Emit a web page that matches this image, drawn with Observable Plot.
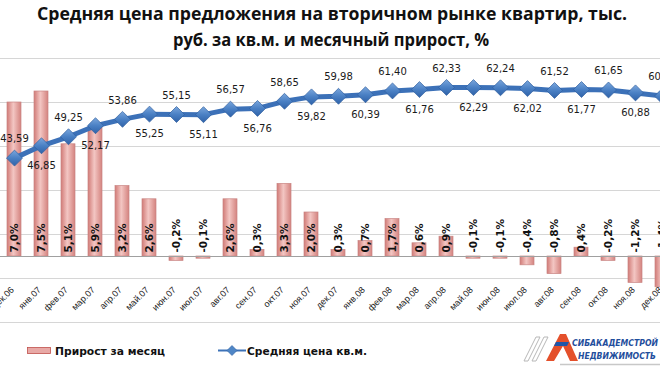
<!DOCTYPE html>
<html><head><meta charset="utf-8">
<script src="https://cdn.jsdelivr.net/npm/d3@7"></script>
<script src="https://cdn.jsdelivr.net/npm/@observablehq/plot@0.6"></script>
<style>
html,body{margin:0;padding:0;background:#fff;overflow:hidden;}
#wrap{position:relative;width:660px;height:371px;overflow:hidden;background:#fff;}
.layer{position:absolute;left:0;top:0;}
.title{position:absolute;font-family:"Open Sans",sans-serif;font-weight:700;font-size:18px;line-height:1;color:#111;white-space:nowrap;transform-origin:0 0;}
#legend,#logo{position:absolute;}
</style></head>
<body><div id="wrap">
<div class="title" id="t1">Средняя цена предложения на вторичном рынке квартир, тыс.</div>
<div class="title" id="t2">руб. за кв.м. и месячный прирост, %</div>
<div id="bars" class="layer"></div>
<div id="line" class="layer"></div>
<svg id="legend" width="400" height="20" style="left:0;top:341px">
  <rect x="27.5" y="6.5" width="23" height="6" fill="#e8a9a6" stroke="#c0504d" stroke-width="0.8"/>
  <text x="55" y="14" font-family="DejaVu Sans" font-weight="700" font-size="10.5" fill="#111" textLength="110" lengthAdjust="spacingAndGlyphs">Прирост за месяц</text>
  <line x1="218" x2="246" y1="9.5" y2="9.5" stroke="#3d72b8" stroke-width="2"/>
  <path d="M232,4.5 L237,9.5 L232,14.5 L227,9.5 Z" fill="#4f86c6" stroke="#2f5f9f" stroke-width="0.6"/>
  <text x="247" y="14" font-family="DejaVu Sans" font-weight="700" font-size="10.5" fill="#111" textLength="120" lengthAdjust="spacingAndGlyphs">Средняя цена кв.м.</text>
</svg>
<svg id="logo" width="140" height="42" style="left:520px;top:329px">
  <polygon points="4,32 16,8 20,8 8,32" fill="none" stroke="#b8b8b8" stroke-width="1"/>
  <polygon points="12,32 24,8 28,8 16,32" fill="none" stroke="#b8b8b8" stroke-width="1"/>
  <polygon points="26,32 40,5 46,5 58,32 50,32 43,17 34,32" fill="#e4502b"/>
  <polygon points="36,13 49,13 47,17 34,17" fill="#1f56a8"/>
  <text x="52" y="17" font-family="DejaVu Sans" font-style="italic" font-weight="700" font-size="8.5" fill="#1f4e9c" textLength="86" lengthAdjust="spacingAndGlyphs">СИБАКАДЕМСТРОЙ</text>
  <text x="58" y="30" font-family="DejaVu Sans" font-style="italic" font-weight="700" font-size="8.5" fill="#1f4e9c" textLength="78" lengthAdjust="spacingAndGlyphs">НЕДВИЖИМОСТЬ</text>
  <line x1="40" x2="140" y1="35.5" y2="35.5" stroke="#c8c8c8" stroke-width="1.5"/>
</svg>
</div>
<script>
const months = ["дек.06","янв.07","фев.07","мар.07","апр.07","май.07","июн.07","июл.07","авг.07","сен.07","окт.07","ноя.07","дек.07","янв.08","фев.08","мар.08","апр.08","май.08","июн.08","июл.08","авг.08","сен.08","окт.08","ноя.08","дек.08"];
const growth = [7.0,7.5,5.1,5.9,3.2,2.6,-0.2,-0.1,2.6,0.3,3.3,2.0,0.3,0.7,1.7,0.6,0.9,-0.1,-0.1,-0.4,-0.8,0.4,-0.2,-1.2,-1.4];
const prices = [43.59,46.85,49.25,52.17,53.86,55.25,55.15,55.11,56.57,56.76,58.65,59.82,59.98,60.39,61.40,61.76,62.33,62.29,62.24,62.02,61.52,61.77,61.65,60.88,60.03];
const gridTicks = [-3,-1,1,3,5,7,9];
const pctDomain = [-3, 9];
const priceDomain = [0, 70];

const data = months.map((m, i) => ({month: m, growth: growth[i], price: prices[i], i}));
const comma = (v, d) => v.toFixed(d).replace(".", ",");

const W = 660, H = 371;
const frame = {width: W, height: H, marginTop: 58, marginBottom: 49, marginLeft: 0, marginRight: 0};
const xOpts = {type: "band", domain: months, range: [-9.9, 684.7], padding: 0.5, axis: null};

// title fitting: same glyph height, horizontal scale to match the reference widths
function fit(id, left, target, top) {
  const el = document.getElementById(id);
  const w = el.getBoundingClientRect().width;
  el.style.left = left + "px";
  el.style.top = top + "px";
  el.style.transform = `scaleX(${target / w})`;
}
fit("t1", 37, 590, 4);
fit("t2", 173, 316, 30);

const barsPlot = Plot.plot({
  ...frame,
  style: "background: transparent; overflow: hidden;",
  x: xOpts,
  y: {domain: pctDomain, axis: null},
  marks: [
    Plot.ruleY(gridTicks, {stroke: "#d6d6d6", strokeWidth: 1.2}),
    Plot.barY(data, {x: "month", y: "growth", fill: "url(#barGrad)", stroke: "#c98583", strokeWidth: 0.7}),
    Plot.ruleY([0], {stroke: "#a0a0a0", strokeWidth: 1.2}),
    Plot.text(data, {x: "month", y: () => 0, text: d => comma(d.growth, 1) + "%", rotate: -90, textAnchor: "start", dy: -4,
      fontFamily: "DejaVu Sans", fontWeight: "bold", fontSize: 10.5, fill: "#111"}),
    Plot.text(months, {x: d => d, y: () => -1.45, text: d => d, rotate: -45, textAnchor: "end", dx: -2,
      fontFamily: "Liberation Sans", fontSize: 9, fill: "#222"})
  ]
});
d3.select(barsPlot).insert("defs", ":first-child").html(`
  <linearGradient id="barGrad" x1="0" x2="1" y1="0" y2="0">
    <stop offset="0" stop-color="#d17b77"/>
    <stop offset="0.45" stop-color="#f3c6c3"/>
    <stop offset="1" stop-color="#d4837f"/>
  </linearGradient>`);
document.getElementById("bars").appendChild(barsPlot);

const linePlot = Plot.plot({
  ...frame,
  style: "background: transparent; overflow: hidden;",
  x: xOpts,
  y: {domain: priceDomain, axis: null},
  marks: [
    Plot.lineY(data, {x: "month", y: "price", stroke: "#3c71b8", strokeWidth: 5}),
    Plot.dot(data, {x: "month", y: "price", symbol: "diamond2", r: 7.2, fill: "url(#dotGrad)", stroke: "#2f5f9f", strokeWidth: 0.7}),
    Plot.text(data.filter(d => d.i % 2 === 0), {x: "month", y: "price", text: d => comma(d.price, 2), dy: -19,
      fontFamily: "DejaVu Sans", fontSize: 10, fill: "#1a1a1a"}),
    Plot.text(data.filter(d => d.i % 2 === 1), {x: "month", y: "price", text: d => comma(d.price, 2), dy: 20,
      fontFamily: "DejaVu Sans", fontSize: 10, fill: "#1a1a1a"})
  ]
});
d3.select(linePlot).insert("defs", ":first-child").html(`
  <linearGradient id="dotGrad" x1="0" x2="0" y1="0" y2="1">
    <stop offset="0" stop-color="#7aa6dc"/>
    <stop offset="0.5" stop-color="#4a80c4"/>
    <stop offset="1" stop-color="#2f62a8"/>
  </linearGradient>`);
document.getElementById("line").appendChild(linePlot);
</script>
</body></html>
